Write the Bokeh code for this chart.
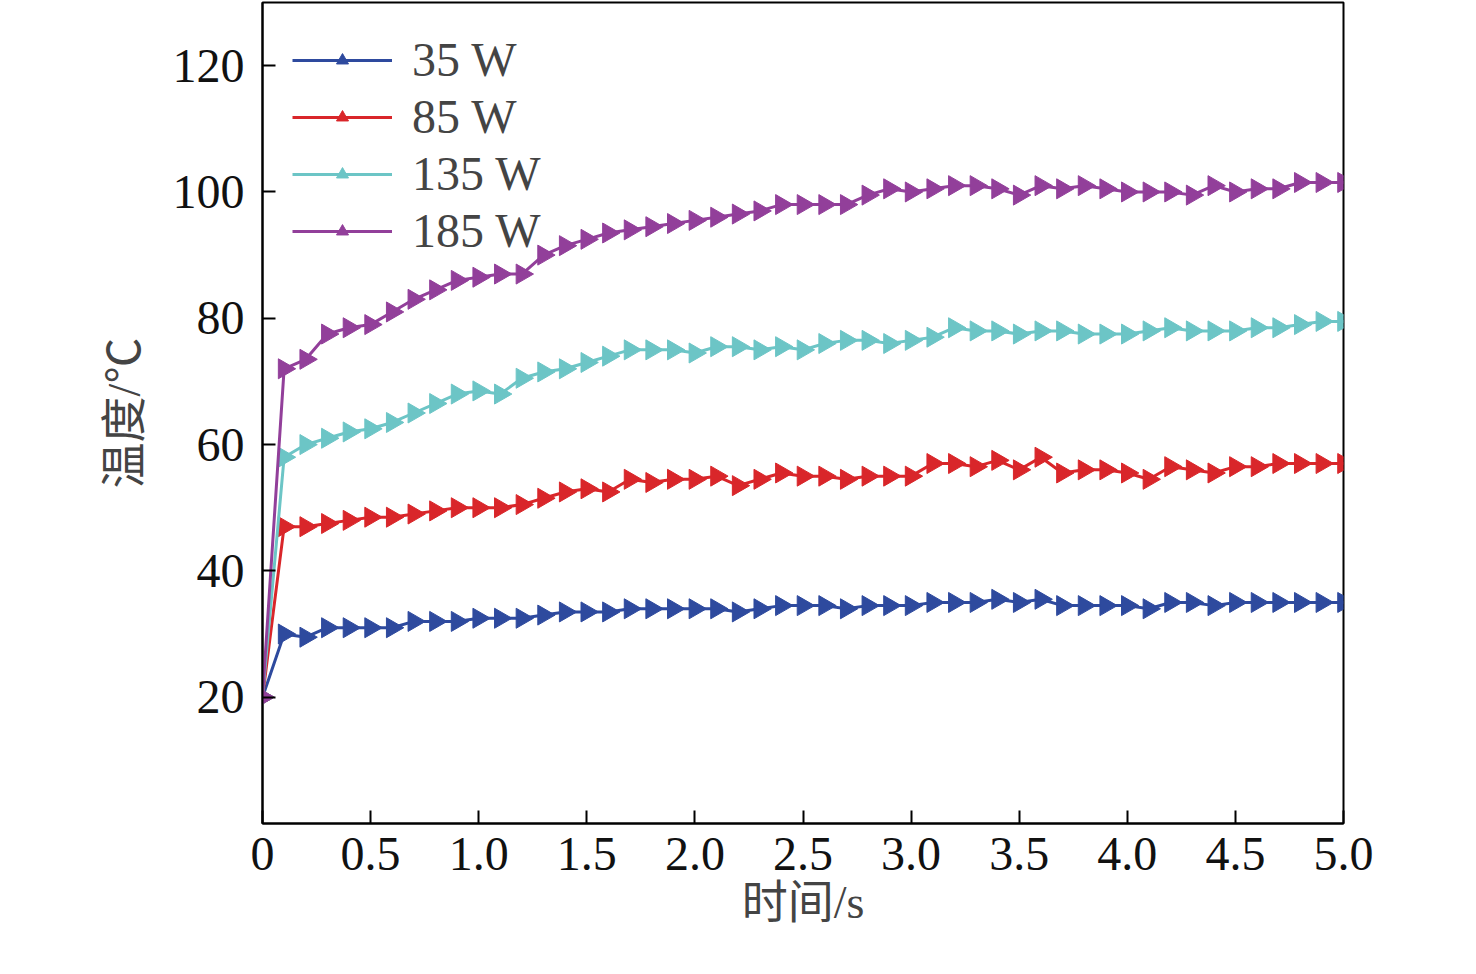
import math
from bokeh.plotting import figure
from bokeh.models import Legend, LegendItem, FixedTicker
from bokeh.embed import file_html
from bokeh.resources import INLINE

time_s = [round(0.1 * i, 1) for i in range(51)]
t35 = [20, 30, 29.5, 31, 31, 31, 31, 32, 32, 32, 32.5, 32.5, 32.5, 33, 33.5, 33.5, 33.5, 34, 34, 34, 34,
       34, 33.5, 34, 34.5, 34.5, 34.5, 34, 34.5, 34.5, 34.5, 35, 35, 35, 35.5, 35, 35.5, 34.5, 34.5, 34.5,
       34.5, 34, 35, 35, 34.5, 35, 35, 35, 35, 35, 35]
t85 = [20, 47, 47, 47.5, 48, 48.5, 48.5, 49, 49.5, 50, 50, 50, 50.5, 51.5, 52.5, 53, 52.5, 54.5, 54, 54.5,
       54.5, 55, 53.5, 54.5, 55.5, 55, 55, 54.5, 55, 55, 55, 57, 57, 56.5, 57.5, 56, 58, 55.5, 56, 56,
       55.5, 54.5, 56.5, 56, 55.5, 56.5, 56.5, 57, 57, 57, 57]
t135 = [20, 58, 60, 61, 62, 62.5, 63.5, 65, 66.5, 68, 68.5, 68, 70.5, 71.5, 72, 73, 74, 75, 75, 75,
        74.5, 75.5, 75.5, 75, 75.5, 75, 76, 76.5, 76.5, 76, 76.5, 77, 78.5, 78, 78, 77.5, 78, 78, 77.5,
        77.5, 77.5, 78, 78.5, 78, 78, 78, 78.5, 78.5, 79, 79.5, 79.5]
t185 = [20, 72, 73.5, 77.5, 78.5, 79, 81, 83, 84.5, 86, 86.5, 87, 87, 90, 91.5, 92.5, 93.5, 94, 94.5, 95,
        95.5, 96, 96.5, 97, 98, 98, 98, 98, 99.5, 100.5, 100, 100.5, 101, 101, 100.5, 99.5, 101, 100.5,
        101, 100.5, 100, 100, 100, 99.5, 101, 100, 100.5, 100.5, 101.5, 101.5, 101.5]
series_labels = ["35 W", "85 W", "135 W", "185 W"]
colors = ["#2e4a9e", "#d9262a", "#6cc5c6", "#923f9a"]
x_ticks = [0, 0.5, 1.0, 1.5, 2.0, 2.5, 3.0, 3.5, 4.0, 4.5, 5.0]
y_ticks = [20, 40, 60, 80, 100, 120]

FONT = "Liberation Serif, 'Noto Sans CJK SC'"

p = figure(width=1460, height=958, x_range=(0, 5), y_range=(0, 130),
           output_backend="svg", toolbar_location=None,
           min_border_left=262, min_border_right=117, min_border_top=2, min_border_bottom=135)
p.grid.visible = False
p.outline_line_color = "black"
p.outline_line_width = 2
p.background_fill_color = "white"

items = []
for ys, lab, c in zip([t35, t85, t135, t185], series_labels, colors):
    r1 = p.line(time_s, ys, line_color=c, line_width=3)
    r2 = p.scatter(time_s, ys, marker="triangle", angle=-math.pi / 2, size=20,
                   fill_color=c, line_color=c)
    items.append(LegendItem(label=lab, renderers=[r1, r2]))

leg = Legend(items=items, location="top_left", border_line_alpha=0,
             background_fill_alpha=0, label_text_font=FONT, label_text_font_size="48px",
             glyph_width=100, glyph_height=30, spacing=2, padding=0, margin=30,
             label_standoff=20, label_height=54)
p.add_layout(leg)

for ax in (p.xaxis[0], p.yaxis[0]):
    ax.axis_line_width = 2
    ax.major_tick_line_width = 2
    ax.major_tick_in = 13
    ax.major_tick_out = 0
    ax.minor_tick_line_color = None
    ax.major_label_text_font = FONT
    ax.major_label_text_font_size = "48px"
    ax.major_label_text_color = "#111111"
    ax.axis_label_text_font = FONT
    ax.axis_label_text_font_size = "46px"
    ax.axis_label_text_font_style = "normal"

p.xaxis.ticker = FixedTicker(ticks=x_ticks)
p.xaxis.major_label_overrides = {t: ("0" if t == 0 else f"{t:.1f}") for t in x_ticks}
p.xaxis.major_label_standoff = 14
p.xaxis.axis_label = "时间/s"
p.xaxis.axis_label_standoff = 4
p.yaxis.ticker = FixedTicker(ticks=y_ticks)
p.yaxis.major_label_standoff = 18
p.yaxis.axis_label = "温度/℃"
p.yaxis.axis_label_standoff = 20

open("out.html", "w").write(file_html(p, INLINE))
